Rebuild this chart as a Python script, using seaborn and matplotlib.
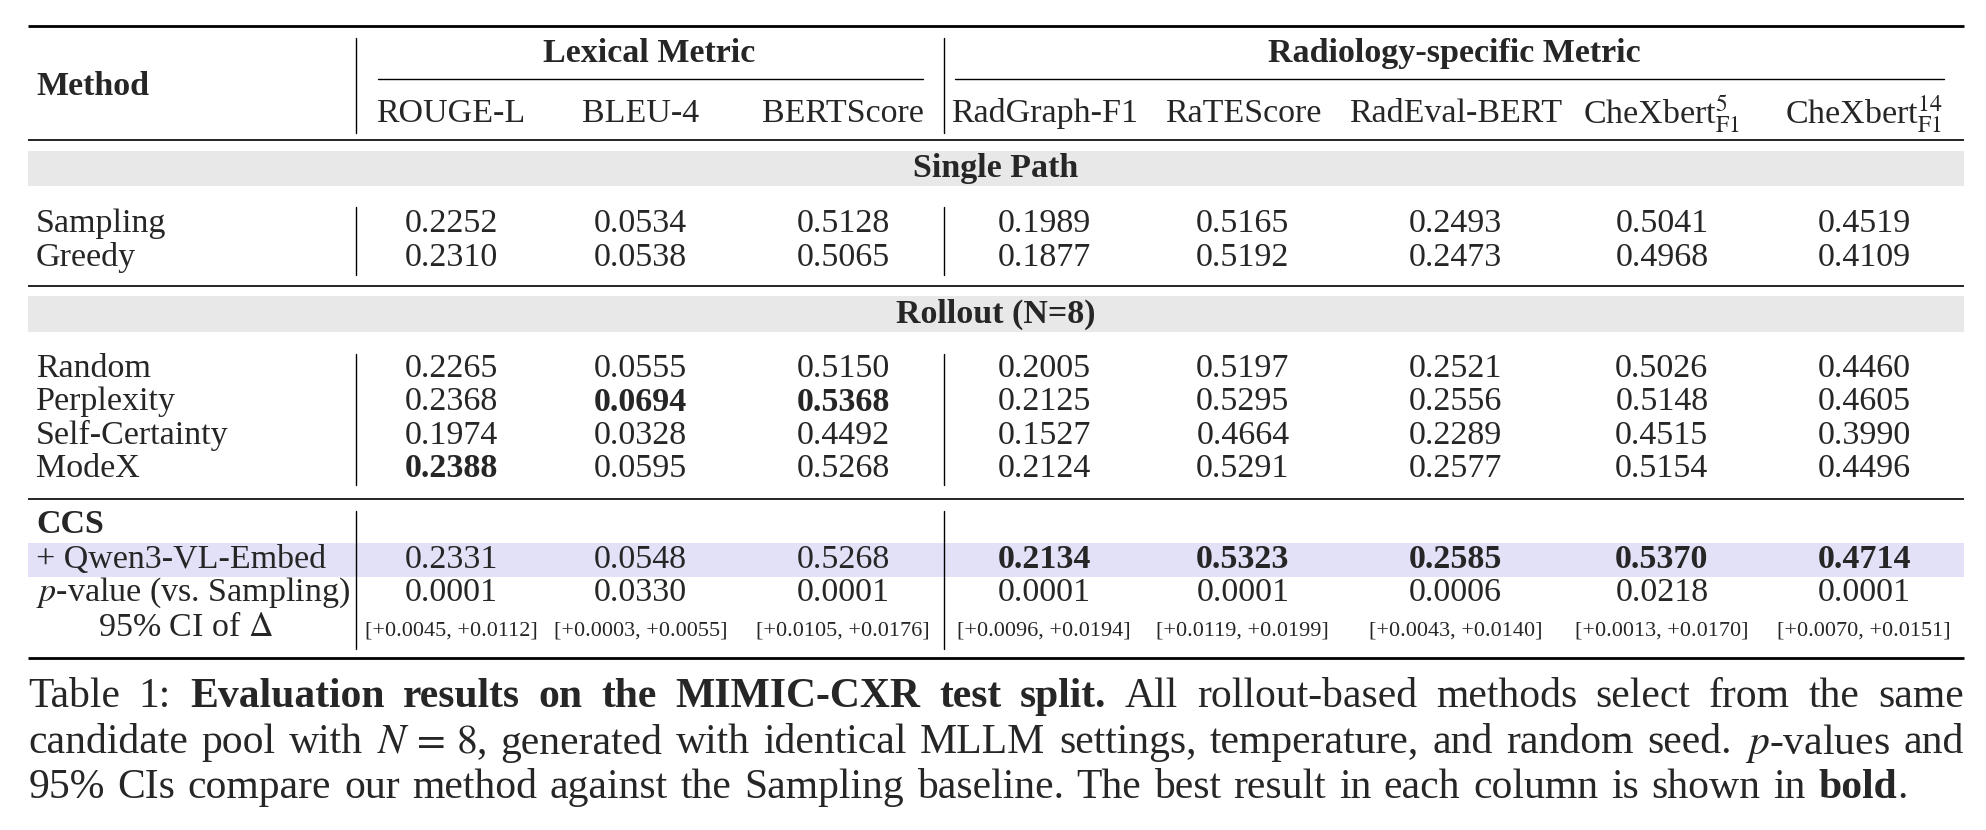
import matplotlib
matplotlib.use("Agg")
import matplotlib.pyplot as plt
import seaborn as sns

sns.set_theme(style="white")
plt.rcParams['font.family'] = ['Liberation Serif', 'DejaVu Serif']
plt.rcParams['mathtext.fontset'] = 'stix'

lex_cols = ["ROUGE-L", "BLEU-4", "BERTScore"]
rad_cols = ["RadGraph-F1", "RaTEScore", "RadEval-BERT",
            r"CheXbert$_{\mathrm{F1}}^{5}$", r"CheXbert$_{\mathrm{F1}}^{14}$"]
single_methods = ["Sampling", "Greedy"]
single_vals = [
    ["0.2252", "0.0534", "0.5128", "0.1989", "0.5165", "0.2493", "0.5041", "0.4519"],
    ["0.2310", "0.0538", "0.5065", "0.1877", "0.5192", "0.2473", "0.4968", "0.4109"],
]
rollout_methods = ["Random", "Perplexity", "Self-Certainty", "ModeX"]
rollout_vals = [
    ["0.2265", "0.0555", "0.5150", "0.2005", "0.5197", "0.2521", "0.5026", "0.4460"],
    ["0.2368", "0.0694", "0.5368", "0.2125", "0.5295", "0.2556", "0.5148", "0.4605"],
    ["0.1974", "0.0328", "0.4492", "0.1527", "0.4664", "0.2289", "0.4515", "0.3990"],
    ["0.2388", "0.0595", "0.5268", "0.2124", "0.5291", "0.2577", "0.5154", "0.4496"],
]
rollout_bold = [[], [1, 2], [], [0]]
ccs_vals = ["0.2331", "0.0548", "0.5268", "0.2134", "0.5323", "0.2585", "0.5370", "0.4714"]
ccs_bold = [3, 4, 5, 6, 7]
pvals = ["0.0001", "0.0330", "0.0001", "0.0001", "0.0001", "0.0006", "0.0218", "0.0001"]
cis = ["[+0.0045, +0.0112]", "[+0.0003, +0.0055]", "[+0.0105, +0.0176]", "[+0.0096, +0.0194]",
       "[+0.0119, +0.0199]", "[+0.0043, +0.0140]", "[+0.0013, +0.0170]", "[+0.0070, +0.0151]"]

W, H = 1550, 650
fig = plt.figure(figsize=(19.86, 8.30), dpi=100)
ax = fig.add_axes([0, 0, 1, 1])
ax.set_xlim(0, W); ax.set_ylim(H, 0); ax.axis("off")

FS = 24.5
colx = [352, 500, 658, 815, 970, 1136, 1297, 1455]
L, R = 22, 1533

def hline(y, lw=1.6):
    ax.plot([L, R], [y, y], color="black", lw=lw, solid_capstyle="butt")

def vbar(y0, y1):
    for x in (278, 737):
        ax.plot([x, x], [y0, y1], color="black", lw=1.0)

def t(x, y, s, ha="center", bold=False, fs=FS, **kw):
    ax.text(x, y, s, ha=ha, va="center", fontsize=fs,
            fontweight="bold" if bold else "normal", **kw)

hline(20, 2.0)
t(507, 42, "Lexical Metric", bold=True)
t(1135, 42, "Radiology-specific Metric", bold=True)
ax.plot([295, 720], [62, 62], color="black", lw=1.0)
ax.plot([745, 1517], [62, 62], color="black", lw=1.0)
t(28, 68, "Method", ha="left", bold=True)
for x, c in zip(colx, lex_cols + rad_cols):
    t(x, 89, c)
vbar(30, 104)
hline(110, 1.2)

def band(y, label):
    ax.add_patch(plt.Rectangle((L, y - 14), R - L, 28, color="#e8e8e8", lw=0))
    t(777, y, label, bold=True)

band(132, "Single Path")
for i, (m, vals) in enumerate(zip(single_methods, single_vals)):
    y = 175 + 27 * i
    t(28, y, m, ha="left")
    for x, v in zip(colx, vals):
        t(x, y, v)
vbar(162, 215)
hline(224, 1.2)

band(246, "Rollout (N=8)")
for i, (m, vals) in enumerate(zip(rollout_methods, rollout_vals)):
    y = 289 + 26 * i
    t(28, y, m, ha="left")
    for j, (x, v) in enumerate(zip(colx, vals)):
        t(x, y, v, bold=j in rollout_bold[i])
vbar(277, 380)
hline(391, 1.2)

ax.add_patch(plt.Rectangle((L, 425), R - L, 27, color="#e3e1f7", lw=0))
t(28, 411, "CCS", ha="left", bold=True)
t(28, 438, "+ Qwen3-VL-Embed", ha="left")
for j, (x, v) in enumerate(zip(colx, ccs_vals)):
    t(x, 438, v, bold=j in ccs_bold)
t(28, 464, r"$p$-value (vs. Sampling)", ha="left")
for x, v in zip(colx, pvals):
    t(x, 464, v)
t(145, 492, r"95% CI of $\Delta$")
for x, v in zip(colx, cis):
    t(x, 494, v, fs=16)
vbar(400, 508)
hline(515, 2.0)

# caption
CFS = 30
fig.canvas.draw()
rend = fig.canvas.get_renderer()
inv = ax.transData.inverted()

def width(tx):
    bb = tx.get_window_extent(renderer=rend)
    a = inv.transform((bb.x0, bb.y0))[0]
    b = inv.transform((bb.x1, bb.y0))[0]
    return b - a

def seg_line(y, words, justify):
    texts = []
    for s, b in words:
        texts.append(ax.text(0, y, s, ha="left", va="center", fontsize=CFS,
                             fontweight="bold" if b else "normal"))
    ws = [width(tx) for tx in texts]
    base_gap = CFS * 0.33
    if justify and len(words) > 1:
        gap = (R - L - sum(ws)) / (len(words) - 1)
    else:
        gap = base_gap
    x = L
    for tx, w in zip(texts, ws):
        tx.set_x(x)
        x += w + gap

def words(s, b=False):
    return [(w, b) for w in s.split(" ")]

seg_line(546, words("Table 1:") + words("Evaluation results on the MIMIC-CXR test split.", True)
         + words("All rollout-based methods select from the same"), True)
seg_line(582, [("candidate", False), ("pool", False), ("with", False), (r"$N\,=\,8$,", False)]
         + words("generated with identical MLLM settings, temperature, and random seed.")
         + [(r"$p$-values", False), ("and", False)], True)
seg_line(617, words("95% CIs compare our method against the Sampling baseline. The best result in each column is shown in")
         + [("bold", True)], False)
# trailing period after bold
fig.canvas.draw()
last = ax.texts[-1]
bb = last.get_window_extent(renderer=rend)
xe = inv.transform((bb.x1, bb.y0))[0]
ax.text(xe, 617, ".", ha="left", va="center", fontsize=CFS)

fig.savefig("out.png", dpi=100)
